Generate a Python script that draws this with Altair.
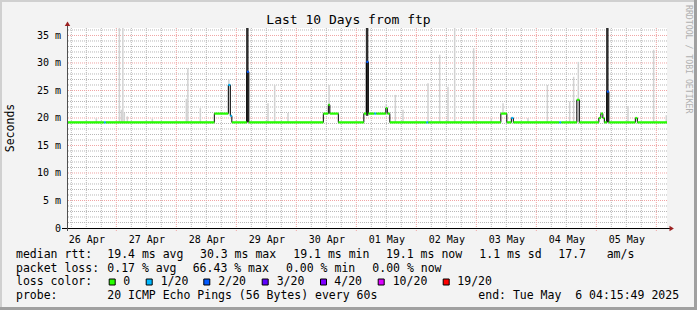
import json
import altair as alt
import pandas as pd

# ---------------- data ----------------
START = pd.Timestamp("2025-04-26 04:15:49")
Y_MAX = 36.36

# median RTT (ms) as a step series, with loss class of each step
median_time = [
    "2025-04-26 04:15:49", "2025-04-26 19:00", "2025-04-26 19:48", "2025-04-28 15:12",
    "2025-04-28 20:48", "2025-04-28 21:36", "2025-04-28 22:12", "2025-04-29 04:12",
    "2025-04-29 05:00", "2025-04-30 10:48", "2025-04-30 12:48", "2025-04-30 13:24",
    "2025-04-30 16:48", "2025-05-01 03:00", "2025-05-01 04:00", "2025-05-01 04:48",
    "2025-05-01 07:12", "2025-05-01 08:00", "2025-05-01 11:48", "2025-05-01 12:24",
    "2025-05-01 13:24", "2025-05-02 04:00", "2025-05-02 04:48", "2025-05-03 09:48",
    "2025-05-03 12:12", "2025-05-03 14:00", "2025-05-03 14:48", "2025-05-04 09:12",
    "2025-05-04 10:00", "2025-05-04 16:12", "2025-05-04 17:12", "2025-05-05 01:00",
    "2025-05-05 01:48", "2025-05-05 02:36", "2025-05-05 03:12", "2025-05-05 04:12",
    "2025-05-05 05:00", "2025-05-05 15:36", "2025-05-05 16:24", "2025-05-06 04:15:49",
]
median_ms = [
    19.2, 19.2, 19.2, 20.8,
    26.0, 20.4, 19.2, 28.4,
    19.2, 20.8, 22.4, 20.8,
    19.2, 20.8, 30.2, 20.8,
    20.8, 20.8, 21.8, 20.8,
    19.2, 19.2, 19.2, 20.8,
    19.2, 20.0, 19.2, 19.2,
    19.2, 23.3, 19.2, 20.0,
    20.8, 20.0, 19.2, 24.8,
    19.2, 20.0, 19.2, 19.2,
]
median_loss = [
    "0", "1/20", "0", "0",
    "1/20", "1/20", "0", "2/20",
    "0", "0", "0", "0",
    "0", "0", "2/20", "0",
    "1/20", "0", "0", "0",
    "0", "1/20", "0", "0",
    "0", "1/20", "0", "1/20",
    "0", "0", "0", "0",
    "0", "0", "0", "2/20",
    "0", "0", "0", "0",
]

# light smoke (spread of the pings)
smoke_time = [
    "2025-04-26 16:00", "2025-04-27 01:12", "2025-04-27 02:00", "2025-04-27 02:36",
    "2025-04-27 03:12", "2025-04-27 04:24", "2025-04-27 14:24", "2025-04-28 04:00",
    "2025-04-28 04:36", "2025-04-28 09:36", "2025-04-28 21:00", "2025-04-29 12:40",
    "2025-04-29 15:20", "2025-04-29 20:40", "2025-04-30 13:05", "2025-05-01 12:00",
    "2025-05-01 15:36", "2025-05-01 18:40", "2025-05-02 04:40", "2025-05-02 09:20",
    "2025-05-02 12:40", "2025-05-02 15:20", "2025-05-02 22:55", "2025-05-03 06:00",
    "2025-05-03 10:40", "2025-05-03 20:40", "2025-05-04 04:24", "2025-05-04 13:20",
    "2025-05-04 14:55", "2025-05-04 16:48", "2025-05-05 12:40", "2025-05-05 22:55",
    "2025-05-06 04:00",
]
smoke_low = [
    19.2, 19.2, 19.2, 19.2,
    19.2, 19.2, 19.2, 19.2,
    19.2, 19.2, 20.8, 19.2,
    19.2, 19.2, 20.8, 20.8,
    19.2, 19.2, 19.2, 19.2,
    19.2, 19.2, 19.2, 19.2,
    20.8, 19.2, 19.2, 19.2,
    19.2, 19.2, 19.2, 19.2,
    19.2,
]
smoke_high = [
    20.0, 36.4, 21.5, 36.4,
    21.0, 20.3, 19.9, 23.5,
    29.0, 21.8, 27.0, 22.7,
    26.0, 20.9, 26.0, 22.5,
    24.2, 21.5, 26.3, 31.5,
    25.7, 36.4, 32.7, 20.0,
    22.7, 20.0, 26.0, 23.0,
    27.5, 30.2, 22.2, 32.4,
    20.5,
]

# dense (dark) smoke
dark_time = ["2025-04-29 04:24", "2025-05-01 04:18", "2025-05-05 04:24"]
dark_low = [19.2, 20.4, 19.2]
dark_high = [36.4, 36.4, 36.4]

loss_classes = ["0", "1/20", "2/20", "3/20", "4/20", "10/20", "19/20"]
loss_colors = ["#26ff00", "#00b8ff", "#0059ff", "#5e00ff", "#7e00ff", "#dd00ff", "#ff0000"]

day_labels = ["26 Apr", "27 Apr", "28 Apr", "29 Apr", "30 Apr",
              "01 May", "02 May", "03 May", "04 May", "05 May"]
y_ticks = [0, 5, 10, 15, 20, 25, 30, 35]

title_text = "Last 10 Days from ftp"
y_title = "Seconds"
side_text = "RRDTOOL / TOBI OETIKER"

legend_rows = [
    [(16, "median rtt:"), (107.3, "19.4 ms avg"), (200, "30.3 ms max"), (293.3, "19.1 ms min"),
     (386, "19.1 ms now"), (479.3, "1.1 ms sd"), (558.3, "17.7"), (606.7, "am/s")],
    [(16, "packet loss:"), (107.3, "0.17 % avg"), (192.7, "66.43 % max"), (286, "0.00 % min"),
     (372.3, "0.00 % now")],
    [(16, "loss color:"), (123.3, "0"), (160.7, "1/20"), (218.3, "2/20"), (276.7, "3/20"),
     (334.3, "4/20"), (392.7, "10/20"), (457.3, "19/20")],
    [(16, "probe:"), (107.3, "20 ICMP Echo Pings (56 Bytes) every 60s"),
     (478.3, "end: Tue May\u00a0 6 04:15:49 2025")],
]
legend_baselines = [258.3, 271.7, 285.3, 299.0]
box_left = [108.7, 145.7, 203.3, 261.7, 320.0, 377.7, 442.7]

# ---------------- helpers ----------------
PLOT_X0, PLOT_Y0 = 67, 28
FONT = "DejaVu Sans Mono"


def hrs(ts):
    return [(pd.Timestamp(t) - START) / pd.Timedelta(hours=1) for t in ts]


xs = alt.Scale(domain=[0, 240], nice=False, zero=False)
ys = alt.Scale(domain=[0, Y_MAX], nice=False, zero=True)

med = pd.DataFrame({"h": hrs(median_time), "ms": median_ms, "loss": median_loss})
seg = pd.DataFrame({
    "h0": med["h"][:-1].values, "h1": med["h"][1:].values,
    "ms": med["ms"][:-1].values, "loss": med["loss"][:-1].values,
})
smoke = pd.DataFrame({"h": hrs(smoke_time), "lo": smoke_low, "hi": smoke_high})
dark = pd.DataFrame({"h": hrs(dark_time), "lo": dark_low, "hi": dark_high})

six_h = pd.date_range("2025-04-26 06:00", "2025-05-06 00:00", freq="6h")
minor_v = pd.DataFrame({"h": hrs([t for t in six_h if t.hour != 0])})
major_v = pd.DataFrame({"h": hrs([t for t in six_h if t.hour == 0])})
minor_hz = pd.DataFrame({"v": [v for v in range(1, 37) if v % 5]})
major_hz = pd.DataFrame({"v": [v for v in y_ticks if v > 0]})
noon = hrs(pd.date_range("2025-04-26 12:00", "2025-05-05 12:00", freq="D"))

label_expr = f"{json.dumps(day_labels)}[round((datum.value - {noon[0]:.4f})/24)]"

# ---------------- layers ----------------
MINOR_C = "#b8b8b8"
MAJOR_C = "#f0a4a4"
grid_minor_v = alt.Chart(minor_v).mark_rule(color=MINOR_C, strokeWidth=1, strokeDash=[1, 1]).encode(
    x=alt.X("h:Q", scale=xs, axis=None))
grid_minor_h = alt.Chart(minor_hz).mark_rule(color=MINOR_C, strokeWidth=1, strokeDash=[1, 1]).encode(
    y=alt.Y("v:Q", scale=ys, axis=None))
grid_major_v = alt.Chart(major_v).mark_rule(color=MAJOR_C, strokeWidth=1, strokeDash=[1, 1]).encode(
    x=alt.X("h:Q", scale=xs, axis=None), y=alt.value(0), y2=alt.value(203))
grid_major_h = alt.Chart(major_hz).mark_rule(color=MAJOR_C, strokeWidth=1, strokeDash=[1, 1]).encode(
    y=alt.Y("v:Q", scale=ys, axis=None))

smoke_layer = alt.Chart(smoke).mark_rule(color="#d2d2d2", strokeWidth=1.5, clip=True).encode(
    x=alt.X("h:Q", scale=xs, axis=None), y=alt.Y("lo:Q", scale=ys, axis=None), y2="hi:Q")
dark_layer = alt.Chart(dark).mark_rule(color="#2e2e2e", strokeWidth=2.5, clip=True).encode(
    x=alt.X("h:Q", scale=xs, axis=None), y=alt.Y("lo:Q", scale=ys, axis=None), y2="hi:Q")

step_line = alt.Chart(med).mark_line(interpolate="step-after", color="#000000", strokeWidth=1).encode(
    x=alt.X("h:Q", scale=xs, axis=alt.Axis(
        values=noon, labelExpr=label_expr, grid=False, domain=False, ticks=False,
        labelFont=FONT, labelFontSize=10, labelColor="#000000", labelPadding=6,
        labelFlush=False, labelOverlap=False, title=None)),
    y=alt.Y("ms:Q", scale=ys, axis=alt.Axis(
        values=y_ticks, labelExpr="datum.value == 0 ? '0' : datum.value + ' m'",
        grid=False, domain=False, ticks=False, labelFont=FONT, labelFontSize=10,
        labelColor="#000000", labelPadding=6.5, title=None)),
)
median_layer = alt.Chart(seg).mark_rule(strokeWidth=2.2, strokeCap="butt").encode(
    x=alt.X("h0:Q", scale=xs, axis=None), x2="h1:Q",
    y=alt.Y("ms:Q", scale=ys, axis=None),
    color=alt.Color("loss:N", scale=alt.Scale(domain=loss_classes, range=loss_colors), legend=None),
)

# axes lines and arrows
x_axis_line = alt.Chart().mark_rule(color="#000000", strokeWidth=1).encode(
    x=alt.value(-5), x2=alt.value(603), y=alt.value(200.5))
y_axis_line = alt.Chart().mark_rule(color="#505050", strokeWidth=1).encode(
    x=alt.value(0.5), y=alt.value(-3), y2=alt.value(203))
arrow_up = alt.Chart().mark_point(shape="M-1,0.8L0,-0.8L1,0.8Z", filled=True, size=30,
                                   color="#9b2020", opacity=1).encode(
    x=alt.value(0.5), y=alt.value(-4.3))
arrow_right = alt.Chart().mark_point(shape="M-0.8,-1L0.8,0L-0.8,1Z", filled=True, size=30,
                                      color="#9b2020", opacity=1).encode(
    x=alt.value(604.7), y=alt.value(200.5))

# image frame
W, H = 697, 310
fx0, fy0 = -PLOT_X0, -PLOT_Y0
frame_top = alt.Chart().mark_rule(color="#d0d0d0", strokeWidth=2).encode(
    x=alt.value(fx0), x2=alt.value(fx0 + W), y=alt.value(fy0 + 1))
frame_left = alt.Chart().mark_rule(color="#d0d0d0", strokeWidth=2).encode(
    x=alt.value(fx0 + 1), y=alt.value(fy0), y2=alt.value(fy0 + H))
frame_bottom = alt.Chart().mark_rule(color="#a0a0a0", strokeWidth=3).encode(
    x=alt.value(fx0), x2=alt.value(fx0 + W), y=alt.value(fy0 + H - 1.5))
frame_right = alt.Chart().mark_rule(color="#a0a0a0", strokeWidth=3).encode(
    x=alt.value(fx0 + W - 1.5), y=alt.value(fy0), y2=alt.value(fy0 + H))

# texts
title_layer = alt.Chart().mark_text(text=title_text, font=FONT, fontSize=13, align="center",
                                    baseline="alphabetic", color="#000000").encode(
    x=alt.value(348.5 - PLOT_X0), y=alt.value(24 - PLOT_Y0))
ytitle_layer = alt.Chart().mark_text(text=y_title, font=FONT, fontSize=11.5, align="center",
                                     baseline="middle", angle=270, color="#000000").encode(
    x=alt.value(11 - PLOT_X0), y=alt.value(128 - PLOT_Y0))
side_layer = alt.Chart().mark_text(text=side_text, font=FONT, fontSize=8.2, align="left",
                                   baseline="middle", angle=90, color="#b0b0b0").encode(
    x=alt.value(687.5 - PLOT_X0), y=alt.value(5 - PLOT_Y0))

leg_rows = []
for row, base in zip(legend_rows, legend_baselines):
    for x, t in row:
        leg_rows.append({"px": x - PLOT_X0, "py": base - PLOT_Y0, "t": t})
legend_text = alt.Chart(pd.DataFrame(leg_rows)).mark_text(
    font=FONT, fontSize=11.5, align="left", baseline="alphabetic", color="#000000").encode(
    x=alt.X("px:Q", scale=None), y=alt.Y("py:Q", scale=None), text="t:N")

boxes = pd.DataFrame({
    "bx0": [b - PLOT_X0 + 0.5 for b in box_left],
    "bx1": [b - PLOT_X0 + 6.5 for b in box_left],
    "by0": 279 - PLOT_Y0, "by1": 285 - PLOT_Y0,
    "col": loss_colors,
})
legend_boxes = alt.Chart(boxes).mark_rect(stroke="#000000", strokeWidth=1).encode(
    x=alt.X("bx0:Q", scale=None), x2="bx1:Q",
    y=alt.Y("by0:Q", scale=None), y2="by1:Q",
    fill=alt.Fill("col:N", scale=None),
)

chart = alt.layer(
    grid_minor_v, grid_minor_h, grid_major_v, grid_major_h,
    smoke_layer, dark_layer, step_line, median_layer,
    x_axis_line, y_axis_line, arrow_up, arrow_right,
    frame_top, frame_left, frame_bottom, frame_right,
    title_layer, ytitle_layer, side_layer, legend_text, legend_boxes,
).resolve_axis(x="independent", y="independent").properties(
    width=600, height=200,
    padding={"left": PLOT_X0, "top": PLOT_Y0, "right": W - PLOT_X0 - 600, "bottom": H - PLOT_Y0 - 200},
    autosize=alt.AutoSizeParams(type="none"),
    background="#f3f3f3",
).configure_view(fill="#ffffff", strokeWidth=0)

chart.save("out.html", embed_options={"renderer": "svg", "actions": False})
